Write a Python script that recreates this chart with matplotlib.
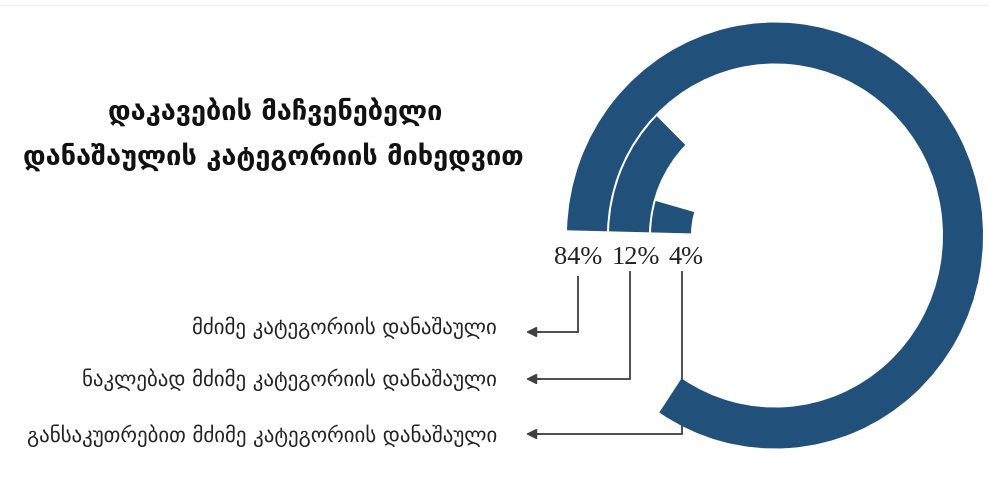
import numpy as np
import matplotlib
matplotlib.use("Agg")
from matplotlib import pyplot as plt

title_lines = ["დაკავების მაჩვენებელი", "დანაშაულის კატეგორიის მიხედვით"]
categories = ["მძიმე კატეგორიის დანაშაული",
              "ნაკლებად მძიმე კატეგორიის დანაშაული",
              "განსაკუთრებით მძიმე კატეგორიის დანაშაული"]
shares = [84, 12, 4]

ring_color = "#21507a"
line_color = "#404040"

fig = plt.figure(figsize=(9.89, 4.84), dpi=100)

# overlay in pixel coordinates for the texts and leader lines
ax0 = fig.add_axes([0, 0, 1, 1])
ax0.set_xlim(0, 989)
ax0.set_ylim(484, 0)
ax0.axis("off")
ax0.plot([0, 989], [5, 5], color="#f0f0f0", lw=1)

# radial bars: centre at (775, 235), radii in pixels (slightly taller than wide)
cx, cy, R, sy = 775, 235.5, 215, 1.024
ax = fig.add_axes([(cx - R) / 989, (484 - cy - R * sy) / 484,
                   2 * R / 989, 2 * R * sy / 484], projection="polar")
ax.set_aspect("auto")
ax.set_theta_zero_location("W", offset=-1.4)
ax.set_theta_direction(-1)
ax.set_ylim(0, R)
ax.axis("off")

r_out = 208
for i, v in enumerate(shares):
    top = r_out - i * 42
    ax.bar(0, 40, width=v / 100 * 2 * np.pi, bottom=top - 40, align="edge",
           color=ring_color, edgecolor="none")

# titles
ax0.text(275, 112, title_lines[0], ha="center", va="center", fontsize=19.5,
         fontweight="bold", family="DejaVu Sans", color="#111111")
ax0.text(273, 157, title_lines[1], ha="center", va="center", fontsize=19.5,
         fontweight="bold", family="DejaVu Sans", color="#111111")

# percent labels and leader lines
label_x = [578, 636, 686]
line_x = [578, 630, 682]
line_top = [277, 272, 272]
row_y = [332, 379, 434]
text_y = [328, 380, 436]
for i, v in enumerate(shares):
    ax0.text(label_x[i], 258, f"{v}%", ha="center", va="center", fontsize=19,
             family="Liberation Serif", color="#222222")
    ax0.plot([line_x[i], line_x[i], 535], [line_top[i], row_y[i], row_y[i]],
             color=line_color, lw=1.3, solid_joinstyle="miter")
    ax0.annotate("", xy=(526, row_y[i]), xytext=(540, row_y[i]),
                 arrowprops=dict(arrowstyle="-|>,head_length=0.6,head_width=0.3",
                                 color=line_color, lw=1.3, shrinkA=0, shrinkB=0))
    ax0.text(497, text_y[i], categories[i], ha="right", va="center",
             fontsize=15, family="DejaVu Sans", color="#222222")

fig.savefig("out.png", dpi=100)
